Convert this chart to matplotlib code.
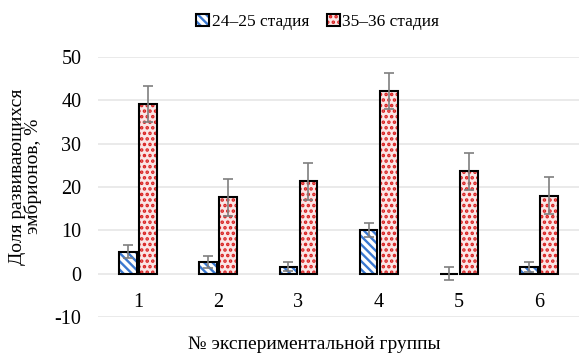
import numpy as np
import matplotlib.pyplot as plt
from matplotlib.patches import Rectangle

plt.rcParams['font.family'] = ['Liberation Serif', 'DejaVu Serif']
plt.rcParams['hatch.linewidth'] = 1.7
plt.rcParams['axes.unicode_minus'] = False

# Data
groups = ['1', '2', '3', '4', '5', '6']
stage_24 = [5.1, 2.6, 1.6, 10.1, 0.0, 1.6]
err_24 = [1.4, 1.4, 1.1, 1.6, 1.5, 1.2]
stage_35 = [39.1, 17.6, 21.3, 42.1, 23.6, 18.0]
err_35 = [4.2, 4.2, 4.2, 4.2, 4.2, 4.2]

blue = '#3a78d0'
red = '#d92020'
x = np.arange(len(groups))
w = 0.22
off = 0.125

fig = plt.figure(figsize=(5.85, 3.56), dpi=100)
ax = fig.add_axes([0.1675, 0.1096, 0.8225, 0.7304])

# hatched fill, then black outline on top
ax.bar(x - off, stage_24, w, color='white', edgecolor=blue, hatch='\\\\\\\\', linewidth=0, zorder=2)
ax.bar(x - off, stage_24, w, fill=False, edgecolor='black', linewidth=1.5, zorder=3)
ax.bar(x + off, stage_35, w, color='#fbe6e6', edgecolor=red, hatch='...', linewidth=0, zorder=2)
ax.bar(x + off, stage_35, w, fill=False, edgecolor='black', linewidth=1.5, zorder=3)

ax.errorbar(x - off, stage_24, yerr=err_24, fmt='none', ecolor='#7f7f7f', elinewidth=1.2, capsize=3.6, capthick=1.2, zorder=4)
ax.errorbar(x + off, stage_35, yerr=err_35, fmt='none', ecolor='#7f7f7f', elinewidth=1.2, capsize=3.6, capthick=1.2, zorder=4)

# legend handles
h1 = (Rectangle((0, 0), 1, 1, facecolor='white', edgecolor=blue, hatch='\\\\\\\\', linewidth=0),
      Rectangle((0, 0), 1, 1, fill=False, edgecolor='black', linewidth=1.5))
h2 = (Rectangle((0, 0), 1, 1, facecolor='#fbe6e6', edgecolor=red, hatch='...', linewidth=0),
      Rectangle((0, 0), 1, 1, fill=False, edgecolor='black', linewidth=1.5))
ax.legend([h1, h2], ['24–25 стадия', '35–36 стадия'], loc='center', bbox_to_anchor=(0.457, 1.135),
          ncol=2, frameon=False, fontsize=12.5, handlelength=0.75, handleheight=0.75,
          handletextpad=0.15, columnspacing=1.0)

ax.set_ylim(-10, 50)
ax.set_xlim(-0.5, 5.5)
ax.set_yticks(range(-10, 51, 10))
ax.set_xticks(x)
ax.set_xticklabels(groups)
ax.spines['bottom'].set_position(('data', 0))
ax.tick_params(length=0, labelsize=14.5)
ax.tick_params(axis='y', pad=12)
ax.tick_params(axis='x', pad=14)
ax.grid(axis='y', color='#e6e6e6', linewidth=1.2, zorder=0)
ax.set_axisbelow(True)
for s in ax.spines.values():
    s.set_visible(False)

ax.set_xlabel('№ экспериментальной группы', fontsize=14)
ax.xaxis.set_label_coords(0.449, -0.072)
ax.set_ylabel('Доля развивающихся\nэмбрионов, %', fontsize=14, linespacing=0.9)
ax.yaxis.set_label_coords(-0.116, 0.54)

fig.savefig('out.png', dpi=100)
